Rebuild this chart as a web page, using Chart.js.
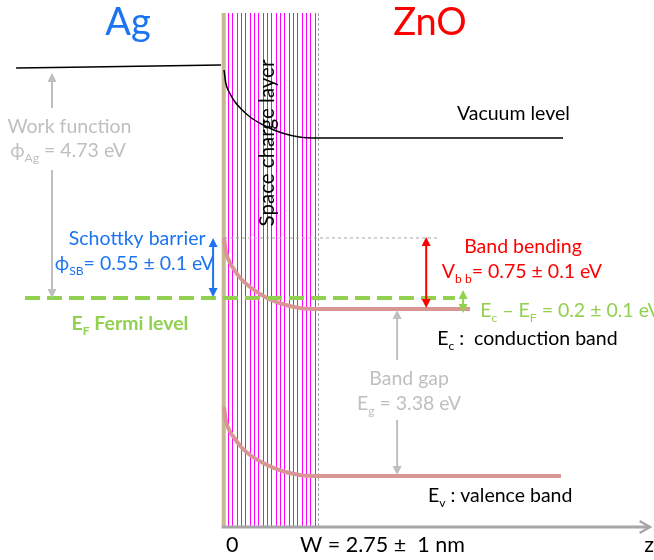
<!DOCTYPE html>
<html lang="en">
<head>
<meta charset="UTF-8">
<title>Ag / ZnO band diagram</title>
<style>
  body { margin: 0; background: #fff; }
  #chartContainer { display: block; }
</style>
</head>
<body>
<canvas id="chartContainer" width="654" height="560"></canvas>
<script src="https://cdn.jsdelivr.net/npm/chart.js"></script>
<script>
// z = depth from the Ag/ZnO interface (nm), E = schematic energy (Fermi level = 0)
const depletionW = 2.75;
const zCurve   = [0, 0.05, 0.15, 0.3, 0.5, 0.8, 1.2, 1.7, 2.2, 2.75];
const vacCurve = [2.28, 2.15, 2.06, 1.97, 1.89, 1.80, 1.72, 1.65, 1.61, 1.60];
const ecCurve  = [0.60, 0.47, 0.37, 0.28, 0.19, 0.10, 0.01, -0.06, -0.10, -0.11];
const evCurve  = [-1.09, -1.22, -1.32, -1.40, -1.49, -1.58, -1.66, -1.73, -1.77, -1.78];
const bulkEnd  = { vac: 9.91, ec: 7.19, ev: 9.85 };
const agVacZ   = [-6.08, -0.09];
const agVacE   = [2.30, 2.33];
const fermiZ   = [-5.82, 6.75];
const ecTopZ   = [0, 6.32];
const zTicks   = [{ z: 0.24, t: '0' }, { z: 4.63, t: 'W = 2.75 \u00b1  1 nm' }, { z: 12.43, t: 'z' }];

const FONT = 'Lato, "Open Sans", sans-serif';
const FS = 19.5;
const pts = (xs, ys) => xs.map((x, i) => ({ x: x, y: ys[i] }));

const line = (data, color, width, extra) => Object.assign({
  data: data, borderColor: color, borderWidth: width, pointRadius: 0,
  fill: false, cubicInterpolationMode: 'monotone'
}, extra || {});

function arrowV(ctx, x, y1, y2, color, w, headStart, headEnd) {
  ctx.strokeStyle = color; ctx.fillStyle = color; ctx.lineWidth = w;
  const hl = 9, hw = 4.5;
  const dir = y2 > y1 ? 1 : -1;
  const a = headStart ? y1 + dir * hl * 0.8 : y1;
  const b = headEnd ? y2 - dir * hl * 0.8 : y2;
  ctx.beginPath(); ctx.moveTo(x, a); ctx.lineTo(x, b); ctx.stroke();
  const head = (tip, d) => {
    ctx.beginPath(); ctx.moveTo(x, tip);
    ctx.lineTo(x - hw, tip - d * hl); ctx.lineTo(x + hw, tip - d * hl);
    ctx.closePath(); ctx.fill();
  };
  if (headEnd) head(y2, dir);
  if (headStart) head(y1, -dir);
}

// parts: [text, isSub]
function richText(ctx, parts, x, y, size, color, align, weight) {
  const sub = size * 0.62, w0 = weight || 'normal';
  let total = 0;
  parts.forEach(p => { ctx.font = w0 + ' ' + (p[1] ? sub : size) + 'px ' + FONT; total += ctx.measureText(p[0]).width; });
  let cx = align === 'left' ? x : x - total / 2;
  ctx.fillStyle = color; ctx.textAlign = 'left'; ctx.textBaseline = 'alphabetic';
  parts.forEach(p => {
    ctx.font = w0 + ' ' + (p[1] ? sub : size) + 'px ' + FONT;
    ctx.fillText(p[0], cx, p[1] ? y + size * 0.25 : y);
    cx += ctx.measureText(p[0]).width;
  });
}

const bandDecor = {
  id: 'bandDecor',
  beforeDatasetsDraw(chart) {
    const { ctx, scales: { x, y } } = chart;
    const X = v => x.getPixelForValue(v), Y = v => y.getPixelForValue(v);
    const top = Y(2.85), bot = Y(-2.29);
    ctx.save();
    // space charge layer hatching
    ctx.strokeStyle = '#FF00FF'; ctx.lineWidth = 1;
    for (let z = 0.12; z < depletionW - 0.08; z += 0.1267) {
      const px = Math.round(X(z)) + 0.5;
      ctx.beginPath(); ctx.moveTo(px, top); ctx.lineTo(px, bot); ctx.stroke();
    }
    ctx.strokeStyle = '#A6A6A6'; ctx.lineWidth = 1; ctx.setLineDash([3, 2]);
    ctx.beginPath(); ctx.moveTo(Math.round(X(depletionW)) + 0.5, top); ctx.lineTo(Math.round(X(depletionW)) + 0.5, bot); ctx.stroke();
    ctx.setLineDash([]);
    // interface
    ctx.fillStyle = '#C8B892';
    ctx.fillRect(X(-0.07), top, X(0.05) - X(-0.07), bot - top);
    // z axis
    ctx.strokeStyle = '#A6A6A6'; ctx.lineWidth = 3;
    ctx.beginPath(); ctx.moveTo(X(-0.07), bot); ctx.lineTo(X(12.45), bot); ctx.stroke();
    ctx.lineWidth = 2.5;
    ctx.beginPath(); ctx.moveTo(X(12.15), bot - 6); ctx.lineTo(X(12.45), bot); ctx.lineTo(X(12.15), bot + 6); ctx.stroke();
    ctx.restore();
  },
  afterDatasetsDraw(chart) {
    const { ctx, scales: { x, y } } = chart;
    const X = v => x.getPixelForValue(v), Y = v => y.getPixelForValue(v);
    ctx.save();
    // arrows
    arrowV(ctx, X(-5.03), Y(1.90), Y(2.25), '#BFBFBF', 2, false, true);
    arrowV(ctx, X(-5.03), Y(1.28), Y(0.0), '#BFBFBF', 2, false, true);
    arrowV(ctx, X(-0.32), Y(0.60), Y(0.01), '#1C74F0', 2, true, true);
    arrowV(ctx, X(5.91), Y(0.61), Y(-0.10), '#FF0000', 2, true, true);
    arrowV(ctx, X(6.99), Y(0.08), Y(-0.15), '#92D050', 2, true, true);
    arrowV(ctx, X(5.06), Y(-0.62), Y(-0.12), '#BFBFBF', 2, false, true);
    arrowV(ctx, X(5.06), Y(-1.22), Y(-1.77), '#BFBFBF', 2, false, true);

    // labels
    richText(ctx, [['Ag']], X(-2.81), Y(2.63), 38, '#1C74F0', 'center');
    richText(ctx, [['ZnO']], X(6.02), Y(2.63), 38, '#FF0000', 'center');
    richText(ctx, [['Vacuum level']], X(6.81), Y(1.78), FS, '#000', 'left');
    richText(ctx, [['Work function']], X(-4.52), Y(1.65), FS, '#BFBFBF', 'center');
    richText(ctx, [['\u03d5'], ['Ag', 1], [' = 4.73 eV']], X(-4.56), Y(1.41), FS, '#BFBFBF', 'center');
    richText(ctx, [['Schottky barrier']], X(-2.54), Y(0.53), FS, '#1C74F0', 'center');
    richText(ctx, [['\u03d5'], ['SB', 1], ['= 0.55 \u00b1 0.1 eV']], X(-2.62), Y(0.28), FS, '#1C74F0', 'center');
    richText(ctx, [['E'], ['F', 1], [' Fermi level']], X(-2.75), Y(-0.32), FS, '#92D050', 'center', 'bold');
    richText(ctx, [['Band bending']], X(8.74), Y(0.45), FS, '#FF0000', 'center');
    richText(ctx, [['V'], ['b b', 1], ['= 0.75 \u00b1 0.1 eV']], X(8.71), Y(0.20), FS, '#FF0000', 'center');
    richText(ctx, [['E'], ['c', 1], [' \u2013 E'], ['F', 1], [' = 0.2 \u00b1 0.1 eV']], X(7.49), Y(-0.19), FS, '#92D050', 'left');
    richText(ctx, [['E'], ['c', 1], [' :  conduction band']], X(6.23), Y(-0.47), FS, '#000', 'left');
    richText(ctx, [['Band gap']], X(5.41), Y(-0.87), FS, '#BFBFBF', 'center');
    richText(ctx, [['E'], ['g', 1], [' = 3.38 eV']], X(5.41), Y(-1.12), FS, '#BFBFBF', 'center');
    richText(ctx, [['E'], ['v', 1], [' : valence band']], X(5.96), Y(-2.04), FS, '#000', 'left');
    zTicks.forEach(t => richText(ctx, [[t.t]], X(t.z), Y(-2.54), 21.5, '#000', 'center'));

    // rotated layer label
    ctx.translate(X(1.46), Y(1.55));
    ctx.rotate(-Math.PI / 2);
    ctx.font = '20.5px ' + FONT; ctx.fillStyle = '#000';
    ctx.textAlign = 'center'; ctx.textBaseline = 'alphabetic';
    ctx.fillText('Space charge layer', 0, 0);
    ctx.restore();
  }
};

new Chart(document.getElementById('chartContainer'), {
  type: 'line',
  data: {
    datasets: [
      line(pts(fermiZ, [0, 0]), '#92D050', 4, { borderDash: [15, 7], cubicInterpolationMode: 'default' }),
      line(pts(agVacZ, agVacE), '#000', 1.5),
      line(pts([...zCurve, bulkEnd.vac], [...vacCurve, vacCurve[vacCurve.length - 1]]), '#000', 1.5),
      line(pts(ecTopZ, [ecCurve[0], ecCurve[0]]), '#A6A6A6', 1, { borderDash: [3, 3] }),
      line(pts([...zCurve, bulkEnd.ec], [...ecCurve, ecCurve[ecCurve.length - 1]]), '#D99694', 4),
      line(pts([...zCurve, bulkEnd.ev], [...evCurve, evCurve[evCurve.length - 1]]), '#D99694', 4)
    ]
  },
  options: {
    responsive: false,
    animation: false,
    devicePixelRatio: 1,
    layout: { padding: 0 },
    plugins: { legend: { display: false }, tooltip: { enabled: false } },
    scales: {
      x: { type: 'linear', min: -6.55, max: 12.57, display: false },
      y: { type: 'linear', min: -2.62, max: 2.98, display: false }
    }
  },
  plugins: [bandDecor]
});
</script>
</body>
</html>
